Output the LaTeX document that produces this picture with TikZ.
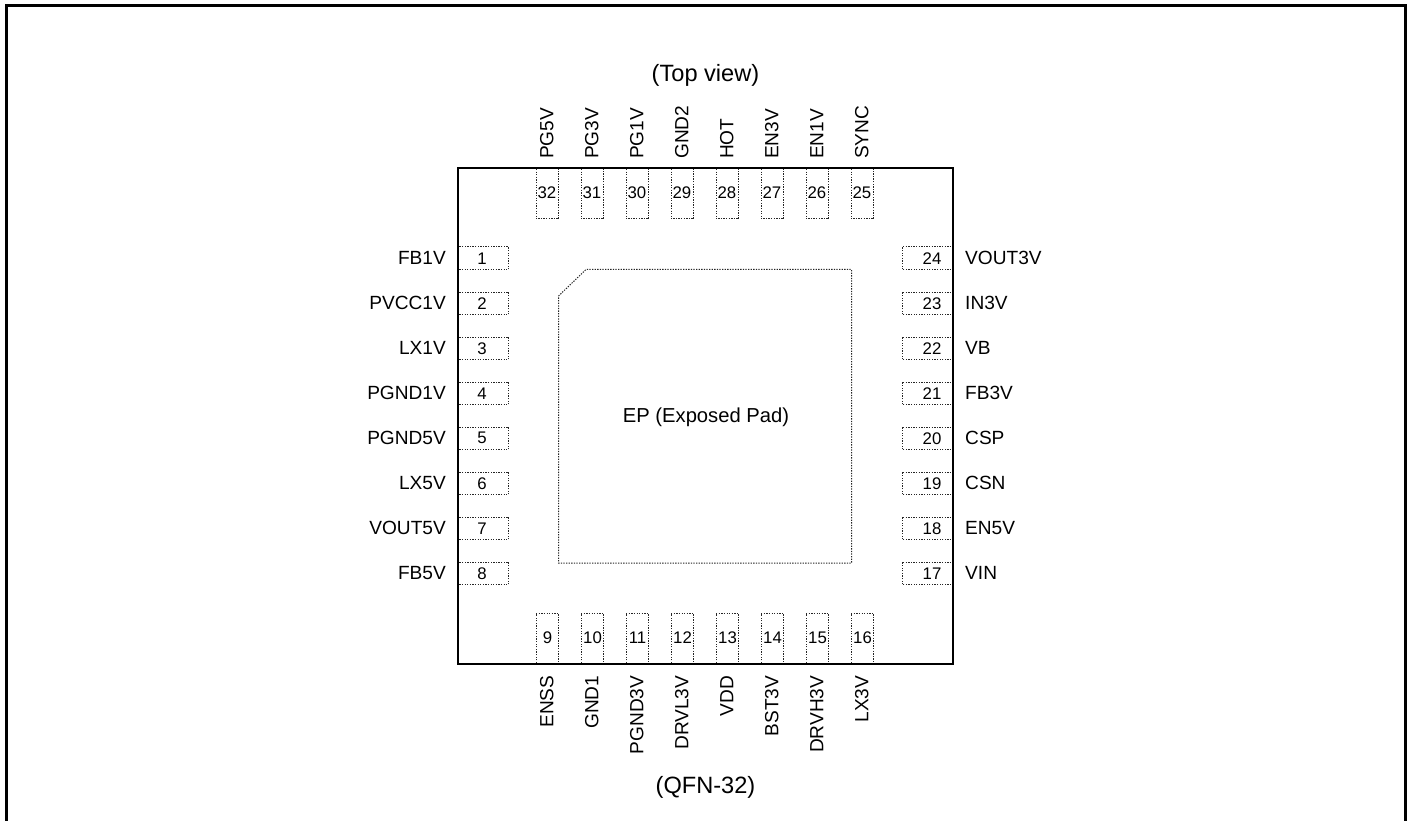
\documentclass[tikz,border=0pt]{standalone}
\usepackage{fontspec}
\setmainfont{Liberation Sans}
\begin{document}
\begin{tikzpicture}[x=1pt,y=-1pt,
  pinbox/.style={draw=black!85,line width=1pt,dash pattern=on 1.3pt off 1.3pt,inner sep=0pt,outer sep=0pt},
  pinnum/.style={font=\fontsize{16.8}{16.8}\selectfont,inner sep=0pt,anchor=center},
  pinlabel/.style={font=\fontsize{19.1}{19}\selectfont,inner sep=0pt},
  title/.style={font=\fontsize{23.6}{24}\selectfont,inner sep=0pt,anchor=center},
  padlabel/.style={font=\fontsize{20.2}{21}\selectfont,inner sep=0pt,anchor=center}]
\useasboundingbox (0,0) rectangle (1414,821);
\fill[white] (0,0) rectangle (1414,821);
% outer frame, open at the bottom
\coordinate (fa) at (6.5,821);
\coordinate (fb) at (6.5,5.5);
\coordinate (fc) at (1405.5,5.5);
\coordinate (fd) at (1405.5,821);
\draw[line width=3pt,line join=miter] (fa) -- (fb) -- (fc) -- (fd);
% exposed pad
\coordinate (p1) at (558.5,296);
\coordinate (p2) at (586,269.5);
\coordinate (p3) at (851.5,269.5);
\coordinate (p4) at (851.5,563);
\coordinate (p5) at (558.5,563);
\draw[pinbox] (p1) -- (p2) -- (p3) -- (p4) -- (p5) -- cycle;
\node[padlabel] (ep) at (706,417) {EP (Exposed Pad)};
\node[title] (topview) at (705.5,75) {(Top view)};
\node[title] (qfn) at (705.5,787) {(QFN-32)};
% left pins
\foreach \n/\t [count=\i from 0] in {1/FB1V,2/PVCC1V,3/LX1V,4/PGND1V,5/PGND5V,6/LX5V,7/VOUT5V,8/FB5V}{
  \pgfmathsetmacro{\yy}{258.3+45*\i}
  \draw[pinbox] (458.5,\yy-11.3) rectangle (508.5,\yy+11.3);
  \node[pinnum] (n\n) at (482,\yy) {\n};
  \node[pinlabel,anchor=east] (l\n) at (446,\yy) {\t};
}
% right pins
\foreach \n/\t [count=\i from 0] in {24/VOUT3V,23/IN3V,22/VB,21/FB3V,20/CSP,19/CSN,18/EN5V,17/VIN}{
  \pgfmathsetmacro{\yy}{258.3+45*\i}
  \draw[pinbox] (952,\yy-11.3) rectangle (902,\yy+11.3);
  \node[pinnum] (n\n) at (932,\yy) {\n};
  \node[pinlabel,anchor=west] (l\n) at (965,\yy) {\t};
}
% top pins
\foreach \n/\t [count=\i from 0] in {32/PG5V,31/PG3V,30/PG1V,29/GND2,28/HOT,27/EN3V,26/EN1V,25/SYNC}{
  \pgfmathsetmacro{\xx}{547.5+45*\i}
  \draw[pinbox] (\xx-11.3,169) rectangle (\xx+11.3,219);
  \node[pinnum] (n\n) at (\xx-0.6,193) {\n};
  \node[pinlabel,rotate=90,anchor=west] (l\n) at (\xx-0.6,159) {\t};
}
% bottom pins
\foreach \n/\t [count=\i from 0] in {9/ENSS,10/GND1,11/PGND3V,12/DRVL3V,13/VDD,14/BST3V,15/DRVH3V,16/LX3V}{
  \pgfmathsetmacro{\xx}{547.5+45*\i}
  \draw[pinbox] (\xx-11.3,663) rectangle (\xx+11.3,613.5);
  \node[pinnum] (n\n) at (\xx,638) {\n};
  \node[pinlabel,rotate=90,anchor=east] (l\n) at (\xx-0.6,675.5) {\t};
}
% package outline
\coordinate (c1) at (458,168);
\coordinate (c2) at (953,168);
\coordinate (c3) at (953,664);
\coordinate (c4) at (458,664);
\draw[line width=2pt,line join=miter] (c1) -- (c2) -- (c3) -- (c4) -- cycle;
\end{tikzpicture}
\end{document}
